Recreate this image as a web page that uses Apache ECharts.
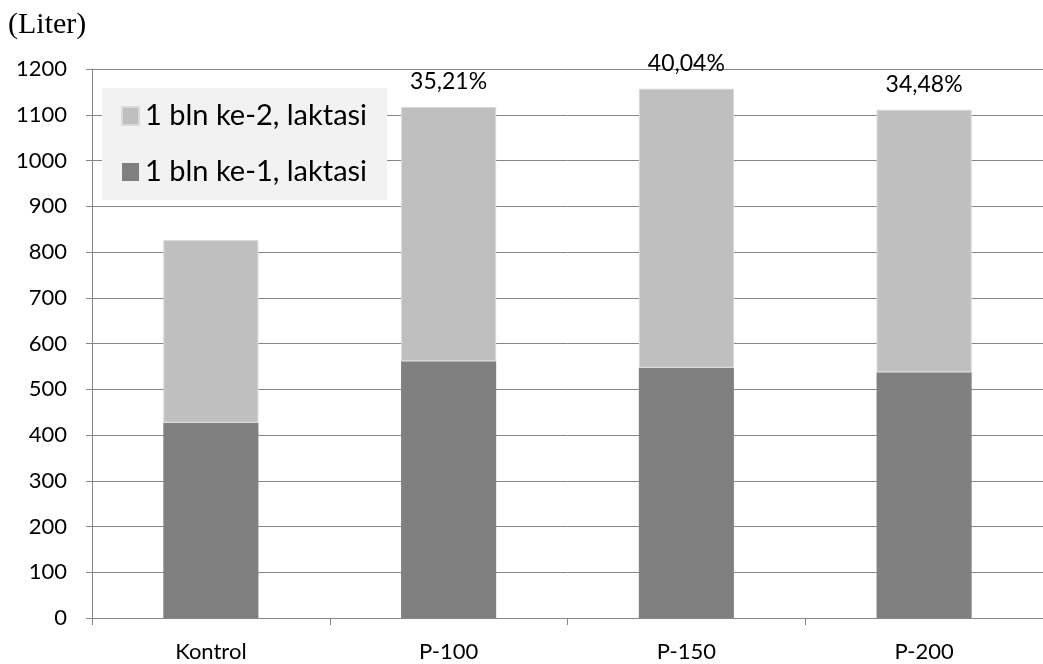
<!DOCTYPE html>
<html>
<head>
<meta charset="utf-8">
<script src="https://cdn.jsdelivr.net/npm/echarts@6/dist/echarts.min.js"></script>
<style>
  html, body { margin: 0; padding: 0; background: #ffffff; }
  #chart { width: 1043px; height: 664px; }
</style>
</head>
<body>
<div id="chart"></div>
<script>
// Milk yield per treatment group, stacked by lactation month
const categories = ['Kontrol', 'P-100', 'P-150', 'P-200'];
const month1 = [427, 561, 547, 537];
const month2 = [399, 556, 610, 574];
const increaseLabels = ['', '35,21%', '40,04%', '34,48%'];
const yTicks = { min: 0, max: 1200, interval: 100 };

const seriesNames = ['1 bln ke-1, laktasi', '1 bln ke-2, laktasi'];
const lightGrey = '#bfbfbf';
const darkGrey = '#808080';
const lineGrey = '#868686';
const tickFont = 'Lato';

const chart = echarts.init(document.getElementById('chart'), null, { renderer: 'canvas' });

chart.setOption({
  animation: false,
  backgroundColor: '#ffffff',
  graphic: [{
    type: 'text',
    left: 8,
    top: 10,
    style: {
      text: '(Liter)',
      font: '30px "Liberation Serif", serif',
      fill: '#000000'
    }
  }],
  legend: {
    orient: 'vertical',
    left: 102,
    top: 88,
    data: [seriesNames[1], seriesNames[0]],
    backgroundColor: '#f2f2f2',
    padding: [10, 20, 10, 19],
    itemGap: 20,
    itemWidth: 17,
    itemHeight: 18,
    icon: 'rect',
    textStyle: {
      fontFamily: tickFont,
      fontSize: 29,
      lineHeight: 36,
      color: '#000000',
      padding: [0, 0, 0, 1]
    }
  },
  grid: {
    left: 92,
    top: 69,
    width: 960,
    bottom: 46,
    containLabel: false
  },
  xAxis: {
    type: 'category',
    data: categories,
    axisLine: { lineStyle: { color: lineGrey, width: 1 } },
    axisTick: { show: true, alignWithLabel: false, length: 7, lineStyle: { color: lineGrey } },
    axisLabel: { fontFamily: tickFont, fontSize: 22, color: '#000000', margin: 23 }
  },
  yAxis: {
    type: 'value',
    min: yTicks.min,
    max: yTicks.max,
    interval: yTicks.interval,
    axisLine: { show: true, lineStyle: { color: lineGrey, width: 1 } },
    axisTick: { show: true, length: 6, lineStyle: { color: lineGrey } },
    splitLine: { show: true, lineStyle: { color: lineGrey, width: 1 } },
    axisLabel: {
      fontFamily: tickFont,
      fontSize: 22,
      color: '#000000',
      margin: 25,
      formatter: (v) => String(v)
    }
  },
  series: [
    {
      name: seriesNames[0],
      type: 'bar',
      stack: 'total',
      data: month1,
      barWidth: '40%',
      itemStyle: { color: darkGrey }
    },
    {
      name: seriesNames[1],
      type: 'bar',
      stack: 'total',
      data: month2,
      barWidth: '40%',
      itemStyle: { color: lightGrey, borderColor: '#d9d9d9', borderWidth: 1 },
      label: {
        show: true,
        position: 'top',
        distance: 14,
        fontFamily: tickFont,
        fontSize: 23,
        color: '#000000',
        formatter: (p) => increaseLabels[p.dataIndex]
      }
    }
  ]
});
</script>
</body>
</html>
